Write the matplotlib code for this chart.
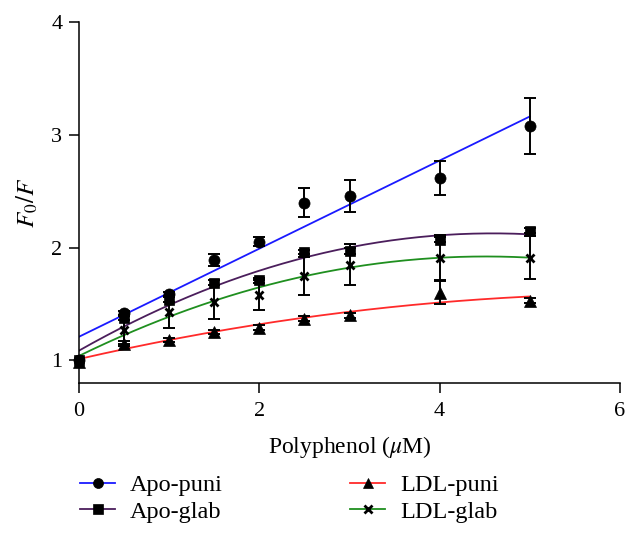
import numpy as np
import matplotlib
matplotlib.use("Agg")
import matplotlib.pyplot as plt
from matplotlib.lines import Line2D

plt.rcParams['font.family'] = ['Liberation Serif', 'DejaVu Serif']
plt.rcParams['mathtext.fontset'] = 'stix'

conc = [0, 0.5, 1, 1.5, 2, 2.5, 3, 4, 5]

apo_puni = [1.00, 1.42, 1.585, 1.89, 2.05, 2.40, 2.46, 2.62, 3.08]
apo_puni_err = [0.0, 0.02, 0.02, 0.05, 0.04, 0.13, 0.14, 0.15, 0.25]

apo_glab = [1.00, 1.38, 1.54, 1.69, 1.71, 1.96, 1.97, 2.07, 2.15]
apo_glab_err = [0.0, 0.02, 0.02, 0.02, 0.02, 0.02, 0.03, 0.02, 0.02]

ldl_puni = [0.99, 1.15, 1.18, 1.25, 1.29, 1.37, 1.40, 1.60, 1.53]
ldl_puni_err = [0.0, 0.02, 0.02, 0.02, 0.02, 0.02, 0.02, 0.10, 0.02]

ldl_glab = [1.00, 1.27, 1.43, 1.52, 1.58, 1.75, 1.85, 1.91, 1.91]
ldl_glab_err = [0.0, 0.12, 0.14, 0.15, 0.13, 0.17, 0.18, 0.20, 0.19]

series_names = ["Apo-puni", "Apo-glab", "LDL-puni", "LDL-glab"]
x_ticks = [0, 2, 4, 6]
y_ticks = [1, 2, 3, 4]

fig = plt.figure(figsize=(6.38, 5.35), dpi=100)
ax = fig.add_axes([79/638, 1-383/535, (620-79)/638, (383-22)/535])

specs = [
    (apo_puni, apo_puni_err, '#1a1aff', 'o', 8, 1),
    (apo_glab, apo_glab_err, '#4b1e5c', 's', 7.5, 2),
    (ldl_puni, ldl_puni_err, '#ff2a2a', '^', 8.5, 2),
    (ldl_glab, ldl_glab_err, '#1f8f1f', 'x', 6, 2),
]

xs = np.array(conc, dtype=float)
xfit = np.linspace(0, 5, 200)
handles = []
for (vals, errs, col, mk, ms, deg), name in zip(specs, series_names):
    coef = np.polyfit(xs, np.array(vals), deg)
    ax.plot(xfit, np.polyval(coef, xfit), color=col, lw=1.3, zorder=2)
    ax.errorbar(xs, vals, yerr=errs, fmt='none', ecolor='black', elinewidth=1.4,
                capsize=4.3, capthick=1.4, zorder=3)
    ax.plot(xs, vals, linestyle='none', marker=mk, color='black', markersize=ms,
            markeredgewidth=(2 if mk == 'x' else 0.5), zorder=4, clip_on=False)
    handles.append(Line2D([], [], color=col, lw=1.3, marker=mk, markerfacecolor='black',
                          markeredgecolor='black', markersize=ms * 0.9,
                          markeredgewidth=(2 if mk == 'x' else 0.5)))

ax.set_xlim(0, 6)
ax.set_ylim(0.8, 4)
ax.set_xticks(x_ticks)
ax.set_yticks(y_ticks)
ax.spines['top'].set_visible(False)
ax.spines['right'].set_visible(False)
for s in ('left', 'bottom'):
    ax.spines[s].set_linewidth(1.1)
ax.tick_params(direction='out', length=7, width=1.1, labelsize=16)
ax.tick_params(axis='x', pad=7)
ax.tick_params(axis='y', pad=5)
ax.set_xlabel(r'Polyphenol ($\mu$M)', fontsize=17, labelpad=9)
ax.set_ylabel(r'$F_0/F$', fontsize=18, labelpad=8)

leg_kw = dict(frameon=False, fontsize=17.5, handlelength=1.45, handletextpad=0.6,
              labelspacing=0.2, borderpad=0, borderaxespad=0, loc='upper left')
fig.legend(handles[:2], series_names[:2], bbox_to_anchor=(80/638, 1-474/535), **leg_kw)
fig.legend(handles[2:], series_names[2:], bbox_to_anchor=(350/638, 1-474/535), **leg_kw)

fig.savefig('out.png', dpi=100)
